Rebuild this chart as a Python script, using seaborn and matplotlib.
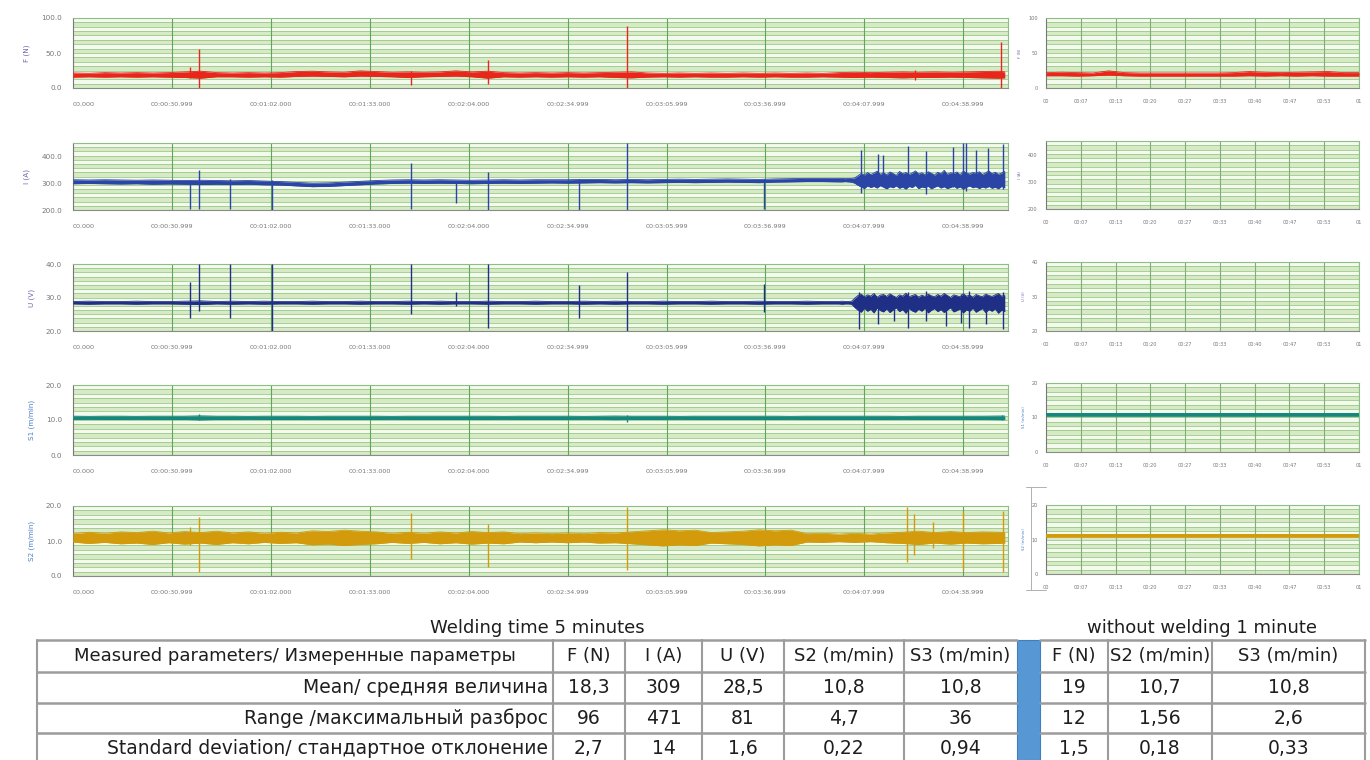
import numpy as np
import pandas as pd
import matplotlib
matplotlib.use("Agg")
import matplotlib.pyplot as plt
from matplotlib.lines import Line2D
from matplotlib.patches import Rectangle
import seaborn as sns

sns.set_theme(style="white")
plt.rcParams['font.family'] = ['DejaVu Sans']

W, H = 1370, 760

# ------------------------------------------------------------------ data
# time grid (s) of the 5-minute welding record
T = [0, 5, 10, 15, 20, 25, 30, 35, 40, 45, 50, 55, 60, 65, 70, 75, 80, 85, 90, 95,
     100, 105, 110, 115, 120, 125, 130, 135, 140, 145, 150, 155, 160, 165, 170, 175,
     180, 185, 190, 195, 200, 205, 210, 215, 220, 225, 230, 235, 240, 245, 250, 255,
     260, 265, 270, 275, 280, 285, 290, 292]
# finer grid for the unstable end of the record (I and U)
T_TAIL = [240, 241, 242, 243, 244, 245, 246, 247, 248, 249, 250, 251, 252, 253, 254, 255,
          256, 257, 258, 259, 260, 261, 262, 263, 264, 265, 266, 267, 268, 269, 270, 271,
          272, 273, 274, 275, 276, 277, 278, 279, 280, 281, 282, 283, 284, 285, 286, 287,
          288, 289, 290, 291, 292]

F_lo = [15.5, 16, 15.5, 16, 15.5, 16, 15.5, 15, 14, 16, 16, 15.5, 16, 15.5, 16.5, 17, 16.5, 16,
        17, 16.5, 16, 15, 16, 16.5, 17, 16, 14, 16, 15.5, 16, 15.5, 16, 15.5, 16, 15, 14.5,
        15.5, 16, 15.5, 16, 15.5, 15.5, 16, 15.5, 16, 15.5, 15.5, 16, 15.5, 15, 15.5, 15,
        14.5, 15, 15, 15.5, 15, 14.5, 14, 14.5]
F_hi = [21.5, 21, 22, 21.5, 22, 21.5, 22, 23, 24, 22, 21.5, 22, 21.5, 22, 23.5, 24, 23, 22.5,
        24.5, 23.5, 22.5, 23, 22.5, 23, 24.5, 23, 24, 22, 21.5, 22, 21.5, 22, 21.5, 22, 22.5,
        23, 21.5, 21, 21.5, 21, 21.5, 21, 21.5, 21, 21.5, 21, 21.5, 21, 22, 22.5, 22, 22.5,
        23, 22.5, 23, 22.5, 23, 23.5, 24, 23]
F_spk_t = [36.7, 39.5, 105.8, 130.2, 173.5, 263.9, 290.9]
F_spk_lo = [14, 0, 4, 6, 0, 12, 0]
F_spk_hi = [30, 56, 24, 40, 89, 26, 66]

# I: 0..235 s on T, then the fine tail
I_lo = [298, 299, 298, 297, 298, 296, 297, 296, 295, 296, 295, 296, 294, 293, 290, 287, 288,
        291, 294, 297, 299, 300, 299, 300, 299, 298, 299, 300, 299, 300, 301, 300, 301, 302,
        301, 302, 301, 302, 303, 302, 303, 304, 303, 302, 304, 305, 306, 306]
I_hi = [313, 312, 313, 312, 311, 312, 311, 310, 311, 310, 309, 310, 308, 306, 303, 300, 301,
        304, 307, 310, 312, 313, 312, 313, 312, 311, 312, 313, 312, 313, 313, 313, 314, 314,
        313, 314, 313, 314, 315, 314, 315, 316, 315, 314, 316, 317, 318, 318]
I_tail_lo = [305, 305, 306, 305, 304, 300, 292, 286, 280, 290, 284, 288, 282, 291, 285, 279,
             287, 283, 290, 281, 286, 278, 288, 284, 292, 280, 286, 283, 289, 279, 285, 290,
             282, 287, 280, 284, 289, 281, 286, 278, 285, 290, 283, 287, 280, 286, 282, 289,
             281, 285, 279, 288, 283]
I_tail_hi = [318, 318, 317, 318, 318, 320, 328, 336, 330, 340, 332, 338, 345, 333, 339, 331,
             342, 336, 329, 344, 335, 340, 332, 338, 346, 334, 339, 331, 343, 337, 330, 341,
             335, 348, 333, 339, 336, 342, 331, 345, 338, 334, 340, 337, 343, 332, 339, 346,
             335, 341, 333, 338, 344]
I_spk_t = [36.7, 39.5, 49.3, 62.4, 105.8, 119.9, 130.2, 158.5, 173.5, 216.5,
           247.0, 252.3, 253.9, 261.7, 267.4, 275.8, 279.0, 279.9, 283.0, 286.8, 291.5]
I_spk_lo = [205, 205, 205, 200, 205, 225, 200, 200, 200, 205,
            265, 290, 290, 285, 260, 285, 280, 270, 285, 285, 280]
I_spk_hi = [310, 350, 315, 312, 375, 310, 340, 315, 450, 315,
            425, 410, 405, 440, 420, 435, 450, 450, 425, 430, 445]

U_lo = [28.1, 28.0, 28.1, 28.1, 28.0, 28.1, 28.1, 28.0, 27.9, 28.1, 28.0, 28.1, 28.0, 28.1,
        28.1, 28.0, 28.1, 28.1, 28.0, 28.1, 28.1, 28.0, 28.1, 28.0, 28.1, 28.1, 28.0, 28.1,
        28.1, 28.0, 28.1, 28.1, 28.0, 28.1, 28.0, 28.1, 28.1, 28.0, 28.1, 28.1, 28.0, 28.1,
        28.1, 28.0, 28.1, 28.1, 28.0, 28.1]
U_hi = [28.8, 28.9, 28.8, 28.8, 28.9, 28.8, 28.8, 28.9, 29.0, 28.8, 28.9, 28.8, 28.9, 28.8,
        28.8, 28.9, 28.8, 28.8, 28.9, 28.8, 28.8, 28.9, 28.8, 28.9, 28.8, 28.8, 28.9, 28.8,
        28.8, 28.9, 28.8, 28.8, 28.9, 28.8, 28.9, 28.8, 28.8, 28.9, 28.8, 28.8, 28.9, 28.8,
        28.8, 28.9, 28.8, 28.8, 28.9, 28.8]
U_tail_lo = [28.1, 28.0, 28.1, 28.1, 28.0, 27.0, 26.2, 25.6, 26.8, 25.9, 26.5, 25.4, 26.9,
             26.1, 25.7, 26.6, 25.5, 26.3, 26.9, 25.8, 26.4, 25.3, 26.7, 26.0, 25.6, 26.5,
             25.9, 26.8, 25.4, 26.2, 26.7, 25.8, 26.4, 25.5, 26.3, 26.9, 25.7, 26.1, 26.6,
             25.4, 26.3, 25.9, 26.8, 25.6, 26.2, 26.7, 25.5, 26.4, 25.9, 26.6, 25.3, 26.2, 25.8]
U_tail_hi = [28.8, 28.9, 28.8, 28.8, 28.9, 29.8, 30.6, 31.0, 30.2, 30.8, 30.4, 31.2, 30.1,
             30.7, 30.9, 30.3, 31.1, 30.5, 30.0, 30.8, 30.4, 31.3, 30.2, 30.6, 30.9, 30.1,
             30.7, 30.3, 31.0, 30.5, 30.2, 30.9, 30.4, 31.2, 30.6, 30.0, 30.8, 30.5, 30.2,
             31.1, 30.4, 30.7, 30.1, 30.9, 30.5, 30.2, 31.0, 30.6, 30.3, 30.8, 31.2, 30.4, 30.7]
U_spk_t = [36.7, 39.5, 49.3, 62.4, 105.8, 119.9, 130.2, 158.5, 173.5, 216.5,
           246.3, 252.3, 257.3, 261.7, 267.4, 273.6, 278.3, 280.8, 286.2, 291.5]
U_spk_lo = [24, 26, 24, 20, 25, 27.5, 21, 24, 20, 25.7,
            20.5, 22, 23, 21, 23, 21.5, 22.5, 21, 22, 20.5]
U_spk_hi = [34.6, 40, 40, 40, 40, 31.6, 40, 33.7, 37.6, 34,
            31.5, 30, 30.5, 31.5, 31.8, 30.5, 31, 32, 30.5, 31.5]

S1_lo = [10.15, 10.2, 10.15, 10.15, 10.2, 10.15, 10.15, 10.15, 10.05, 10.15, 10.15, 10.2,
         10.15, 10.15, 10.15, 10.2, 10.15, 10.15, 10.15, 10.15, 10.2, 10.15, 10.15, 10.15,
         10.15, 10.15, 10.15, 10.2, 10.15, 10.15, 10.15, 10.15, 10.2, 10.15, 10.1, 10.15,
         10.15, 10.15, 10.2, 10.15, 10.15, 10.15, 10.15, 10.15, 10.15, 10.2, 10.15, 10.15,
         10.15, 10.15, 10.15, 10.15, 10.2, 10.15, 10.15, 10.15, 10.15, 10.15, 10.1, 10.1]
S1_hi = [11.1, 11.05, 11.1, 11.1, 11.05, 11.1, 11.1, 11.1, 11.2, 11.1, 11.1, 11.05, 11.1,
         11.1, 11.1, 11.05, 11.1, 11.1, 11.1, 11.1, 11.05, 11.1, 11.1, 11.1, 11.1, 11.1, 11.1,
         11.05, 11.1, 11.1, 11.1, 11.1, 11.05, 11.1, 11.15, 11.1, 11.1, 11.1, 11.05, 11.1,
         11.1, 11.1, 11.1, 11.1, 11.1, 11.05, 11.1, 11.1, 11.1, 11.1, 11.1, 11.1, 11.05, 11.1,
         11.1, 11.1, 11.1, 11.1, 11.15, 11.15]
S1_spk_t = [39.5, 173.5, 291.0]
S1_spk_lo = [10.0, 9.3, 9.9]
S1_spk_hi = [11.7, 11.5, 11.4]

S2_lo = [9.7, 9.3, 9.6, 9.2, 9.4, 9.0, 9.5, 9.1, 9.4, 9.0, 9.5, 9.2, 9.6, 9.3, 9.5, 8.9, 9.1,
         8.7, 9.0, 9.2, 9.6, 9.3, 9.6, 9.2, 9.5, 9.1, 9.4, 9.2, 9.7, 9.5, 9.7, 9.5, 9.7, 9.4,
         9.5, 9.2, 8.9, 8.6, 8.9, 8.7, 9.4, 9.2, 9.0, 8.6, 8.9, 8.7, 9.7, 9.6, 9.8, 9.6, 9.8,
         9.5, 9.3, 9.0, 9.4, 9.1, 9.4, 9.2, 9.3, 9.4]
S2_hi = [12.1, 12.5, 12.2, 12.6, 12.4, 12.8, 12.3, 12.7, 12.4, 12.8, 12.3, 12.6, 12.2, 12.5,
         12.3, 12.9, 12.7, 13.1, 12.8, 12.6, 12.2, 12.5, 12.2, 12.6, 12.3, 12.7, 12.4, 12.6,
         12.1, 12.3, 12.1, 12.3, 12.1, 12.4, 12.3, 12.6, 12.9, 13.2, 12.9, 13.1, 12.4, 12.6,
         12.8, 13.2, 12.9, 13.1, 12.1, 12.2, 12.0, 12.2, 12.0, 12.3, 12.5, 12.8, 12.4, 12.7,
         12.4, 12.6, 12.5, 12.4]
S2_spk_t = [36.7, 39.5, 105.8, 130.2, 173.5, 261.4, 263.6, 269.6, 279.0, 291.5]
S2_spk_lo = [9.0, 1.1, 5.0, 2.6, 1.7, 4.0, 6.0, 8.0, 1.8, 1.2]
S2_spk_hi = [14.0, 16.9, 18.0, 15.0, 19.7, 19.7, 17.6, 15.5, 18.5, 18.5]

# time grid (s) of the 1-minute record without welding
TR = [0, 3, 6, 9, 12, 15, 18, 21, 24, 27, 30, 33, 36, 39, 42, 45, 48, 51, 54, 57, 60]
FR_lo = [17.5, 17.5, 17.0, 17.5, 18.5, 17.5, 17.0, 17.0, 17.0, 17.0, 17.0, 17.0, 17.0, 17.5,
         17.0, 17.5, 17.0, 17.5, 17.0, 17.0, 17.0]
FR_hi = [22.0, 22.5, 22.0, 21.5, 24.5, 22.0, 21.5, 21.5, 21.5, 21.5, 21.5, 21.5, 22.0, 23.5,
         22.5, 22.0, 22.5, 23.0, 23.5, 22.0, 22.0]
S1R_lo = [10.4, 10.4, 10.4, 10.4, 10.4, 10.4, 10.4, 10.4, 10.4, 10.4, 10.4, 10.4, 10.4, 10.4,
          10.4, 10.4, 10.4, 10.4, 10.4, 10.4, 10.4]
S1R_hi = [11.3, 11.3, 11.3, 11.3, 11.3, 11.3, 11.3, 11.3, 11.3, 11.3, 11.3, 11.3, 11.3, 11.3,
          11.3, 11.3, 11.3, 11.3, 11.3, 11.3, 11.3]
S2R_lo = [10.6, 10.6, 10.6, 10.6, 10.6, 10.6, 10.6, 10.6, 10.6, 10.6, 10.6, 10.6, 10.6, 10.6,
          10.6, 10.6, 10.6, 10.6, 10.6, 10.6, 10.6]
S2R_hi = [11.7, 11.7, 11.7, 11.7, 11.7, 11.7, 11.7, 11.7, 11.7, 11.7, 11.7, 11.7, 11.7, 11.7,
          11.7, 11.7, 11.7, 11.7, 11.7, 11.7, 11.7]

# tick labels
long_xticks = [0, 31, 62, 93, 124, 155, 186, 217, 248, 279]
long_xlabels = ["00.000", "00:00:30.999", "00:01:02.000", "00:01:33.000", "00:02:04.000",
                "00:02:34.999", "00:03:05.999", "00:03:36.999", "00:04:07.999", "00:04:38.999"]
short_xticks = [0, 6.67, 13.33, 20, 26.67, 33.33, 40, 46.67, 53.33, 60]
short_xlabels = ["00", "00:07", "00:13", "00:20", "00:27", "00:33", "00:40", "00:47", "00:53", "01"]

ylabels = ["F (N)", "I (A)", "U (V)", "S1 (m/min)", "S2 (m/min)"]
ylims = [(0, 100), (200, 450), (20, 40), (0, 20), (0, 20)]
yticks = [[0, 50, 100], [200, 300, 400], [20, 30, 40], [0, 10, 20], [0, 10, 20]]
colors = ["#e8261c", "#2b45a6", "#202f86", "#16877c", "#d39a0c"]
ylab_colors = ["#7064b0", "#7064b0", "#7064b0", "#4a7fc4", "#4a7fc4"]

# table
title_weld = "Welding time 5 minutes"
title_nowl = "without welding 1 minute"
head_first = "Measured parameters/ Измеренные параметры"
head_weld = ["F (N)", "I (A)", "U (V)", "S2 (m/min)", "S3 (m/min)"]
head_nowl = ["F (N)", "S2 (m/min)", "S3 (m/min)"]
row_names = ["Mean/ средняя величина", "Range /максимальный разброс",
             "Standard deviation/ стандартное отклонение"]
weld_vals = [["18,3", "309", "28,5", "10,8", "10,8"],
             ["96", "471", "81", "4,7", "36"],
             ["2,7", "14", "1,6", "0,22", "0,94"]]
nowl_vals = [["19", "10,7", "10,8"],
             ["12", "1,56", "2,6"],
             ["1,5", "0,18", "0,33"]]

# ------------------------------------------------------------------ figure
fig = plt.figure(figsize=(W / 100, H / 100), dpi=100)
fig.patch.set_facecolor("white")


def add_ax(x0, x1, y0, y1):
    return fig.add_axes([x0 / W, 1 - y1 / H, (x1 - x0) / W, (y1 - y0) / H])


def style(ax, ylim, yt, xt, xl, xlim, ylab, ylab_col, minor_n, small=False):
    ax.set_xlim(*xlim)
    ax.set_ylim(*ylim)
    ax.set_facecolor("#eef6e6")
    n = 16
    step = (ylim[1] - ylim[0]) / n
    for i in range(n):
        ax.axhspan(ylim[0] + i * step, ylim[0] + (i + 1) * step,
                   color="#d6eac6" if i % 2 == 0 else "#f5faef", lw=0, zorder=0)
    for i in range(1, n):
        ax.axhline(ylim[0] + i * step, color="#9cc989", lw=0.6, zorder=0.5)
    for x in xt[1:]:
        ax.axvline(x, color="#5ea65a" if not small else "#7fae78", lw=0.8, zorder=0.6)
    ax.set_yticks(yt)
    if small:
        ax.set_yticklabels([f"{v:g}" for v in yt])
    else:
        ax.set_yticklabels([f"{v:.1f}" for v in yt])
    ax.set_xticks(xt)
    ax.set_xticklabels(xl)
    minors = []
    for a, b in zip(xt[:-1], xt[1:]):
        for k in range(1, minor_n):
            minors.append(a + (b - a) * k / minor_n)
    ax.set_xticks(minors, minor=True)
    fs = 3.6 if small else 4.6
    ax.tick_params(axis="both", which="major", labelsize=fs, colors="#777777",
                   length=3, width=0.6, direction="out", pad=5 if not small else 3)
    ax.tick_params(axis="y", which="major", labelsize=fs + (0.6 if not small else 0))
    ax.tick_params(axis="x", which="minor", length=2, width=0.5, colors="#999999",
                   direction="out")
    ax.tick_params(axis="x", which="major", pad=7 if not small else 5)
    for s in ["top", "right"]:
        ax.spines[s].set_color("#8cbf86")
        ax.spines[s].set_linewidth(0.8)
    ax.spines["left"].set_color("#777777")
    ax.spines["bottom"].set_color("#8a8a8a")
    ax.spines["left"].set_linewidth(0.8)
    ax.spines["bottom"].set_linewidth(0.8)
    ax.set_ylabel(ylab, fontsize=2.8 if small else 5.2, color=ylab_col,
                  labelpad=4 if small else 8)
    ax.set_xlabel("")
    if not small:
        ax.get_xticklabels()[0].set_horizontalalignment("left")


def draw(ax, t, lo, hi, color, spk=None):
    ax.fill_between(t, lo, hi, color=color, lw=0, zorder=3)
    d = pd.DataFrame({"t": t, "lo": lo, "hi": hi})
    sns.lineplot(data=d, x="t", y="lo", ax=ax, color=color, lw=0.6, zorder=3)
    sns.lineplot(data=d, x="t", y="hi", ax=ax, color=color, lw=0.6, zorder=3)
    if spk is not None:
        ax.vlines(spk[0], spk[1], spk[2], color=color, lw=1.0, zorder=4)


left_rows = [(18, 88), (143, 210), (264, 331), (385, 455), (506, 576)]
right_rows = [(18, 88), (141, 209), (262, 331), (383, 452), (505, 574)]

T_IU = T[:48] + T_TAIL
series = [
    (T, F_lo, F_hi, (F_spk_t, F_spk_lo, F_spk_hi)),
    (T_IU, I_lo + I_tail_lo, I_hi + I_tail_hi, (I_spk_t, I_spk_lo, I_spk_hi)),
    (T_IU, U_lo + U_tail_lo, U_hi + U_tail_hi, (U_spk_t, U_spk_lo, U_spk_hi)),
    (T, S1_lo, S1_hi, (S1_spk_t, S1_spk_lo, S1_spk_hi)),
    (T, S2_lo, S2_hi, (S2_spk_t, S2_spk_lo, S2_spk_hi)),
]
right_series = [(FR_lo, FR_hi), None, None, (S1R_lo, S1R_hi), (S2R_lo, S2R_hi)]

for i in range(5):
    y0, y1 = left_rows[i]
    ax = add_ax(73, 1008, y0, y1)
    tt, lo, hi, spk = series[i]
    draw(ax, tt, lo, hi, colors[i], spk)
    style(ax, ylims[i], yticks[i], long_xticks, long_xlabels, (0, 293),
          ylabels[i], ylab_colors[i], 6)

    y0, y1 = right_rows[i]
    axr = add_ax(1046, 1359, y0, y1)
    if right_series[i] is not None:
        rlo, rhi = right_series[i]
        draw(axr, TR, rlo, rhi, colors[i])
    style(axr, ylims[i], yticks[i], short_xticks, short_xlabels, (0, 60),
          ylabels[i], ylab_colors[i], 4, small=True)

# small bracket left of the last right-hand panel
for (xa, ya, xb, yb) in [(1031, 487, 1031, 590), (1026, 487, 1046, 487), (1026, 590, 1046, 590)]:
    fig.add_artist(Line2D([xa / W, xb / W], [1 - ya / H, 1 - yb / H], color="#b0b0b0", lw=0.7))

# ------------------------------------------------------------------ table
tax = fig.add_axes([0, 0, 1, 160 / H])
tax.set_xlim(0, W)
tax.set_ylim(H, H - 160)
tax.axis("off")

tfont = ["DejaVu Sans"]
line_c = "#9c9c9c"
txt_c = "#1e1e1e"

cols_w = [37, 553, 625, 702, 784, 904, 1017]
bar = (1017, 1040)
cols_n = [1040, 1108, 1212, 1365]
rows_y = [640, 672, 703, 733, 763]

tax.text((cols_w[0] + cols_w[-1]) / 2 + 10, 628, title_weld, ha="center", va="center",
         fontsize=13, family=tfont, color=txt_c)
tax.text((cols_n[0] + cols_n[-1]) / 2, 628, title_nowl, ha="center", va="center",
         fontsize=13, family=tfont, color=txt_c)

for y in rows_y[:-1]:
    tax.plot([cols_w[0], cols_w[-1]], [y, y], color=line_c, lw=1.8)
    tax.plot([cols_n[0], cols_n[-1]], [y, y], color=line_c, lw=1.8)
for x in cols_w[:-1]:
    tax.plot([x, x], [rows_y[0], H], color=line_c, lw=1.5)
for x in cols_n[1:]:
    tax.plot([x, x], [rows_y[0], H], color=line_c, lw=1.5)
tax.add_patch(Rectangle((bar[0], rows_y[0]), bar[1] - bar[0], H - rows_y[0],
                        facecolor="#5797d3", edgecolor="#3f7fbf", lw=0.8))

ymid = [(rows_y[k] + rows_y[k + 1]) / 2 for k in range(4)]
fs_t = 13.5
tax.text((cols_w[0] + cols_w[1]) / 2, ymid[0], head_first, ha="center", va="center",
         fontsize=13, family=tfont, color=txt_c)
for j, h in enumerate(head_weld):
    tax.text((cols_w[j + 1] + cols_w[j + 2]) / 2, ymid[0], h, ha="center", va="center",
             fontsize=13, family=tfont, color=txt_c)
for j, h in enumerate(head_nowl):
    tax.text((cols_n[j] + cols_n[j + 1]) / 2, ymid[0], h, ha="center", va="center",
             fontsize=13, family=tfont, color=txt_c)
for r in range(3):
    tax.text(cols_w[1] - 5, ymid[r + 1], row_names[r], ha="right", va="center",
             fontsize=fs_t, family=tfont, color=txt_c)
    for j, v in enumerate(weld_vals[r]):
        tax.text((cols_w[j + 1] + cols_w[j + 2]) / 2, ymid[r + 1], v, ha="center",
                 va="center", fontsize=fs_t, family=tfont, color=txt_c)
    for j, v in enumerate(nowl_vals[r]):
        tax.text((cols_n[j] + cols_n[j + 1]) / 2, ymid[r + 1], v, ha="center",
                 va="center", fontsize=fs_t, family=tfont, color=txt_c)

fig.savefig("out.png", dpi=100, facecolor="white")
